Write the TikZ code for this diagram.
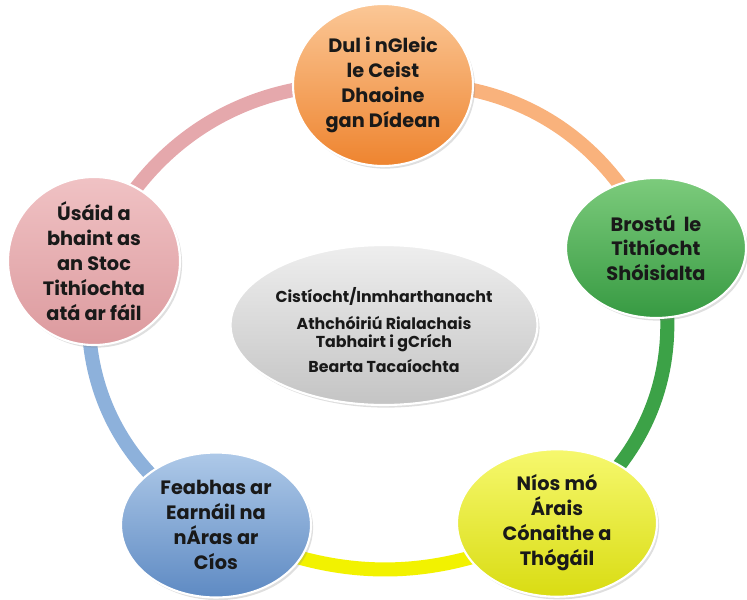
\documentclass[tikz,border=0pt]{standalone}
\usepackage{fontspec}
\setmainfont{Poppins}
\usetikzlibrary{shapes.geometric,shadows}

\definecolor{ringorange}{HTML}{F9B27C}
\definecolor{ringgreen}{HTML}{3CA247}
\definecolor{ringyellow}{HTML}{F2F200}
\definecolor{ringblue}{HTML}{8DB1DB}
\definecolor{ringpink}{HTML}{E5A8AC}
\definecolor{orangetop}{HTML}{FBC796}
\definecolor{orangebot}{HTML}{EE842F}
\definecolor{greentop}{HTML}{7CCB7C}
\definecolor{greenbot}{HTML}{379A42}
\definecolor{yellowtop}{HTML}{F6F86E}
\definecolor{yellowbot}{HTML}{D9DC12}
\definecolor{bluetop}{HTML}{AEC9E8}
\definecolor{bluebot}{HTML}{5E8AC3}
\definecolor{pinktop}{HTML}{F0C2C4}
\definecolor{pinkbot}{HTML}{DC9A9E}
\definecolor{graytop}{HTML}{EEEEEE}
\definecolor{graybot}{HTML}{C4C4C4}

\begin{document}
\begin{tikzpicture}[x=0.02cm,y=-0.02cm,
    bubble/.style={ellipse,draw=white,line width=1.2pt,inner sep=0pt,
      align=center,text=black!90,
      font=\fontsize{11}{14.2}\selectfont\bfseries,
      drop shadow={opacity=0.25,shadow xshift=1.2pt,shadow yshift=-1.5pt}},
    band/.style={line width=8pt}]
  \useasboundingbox (0,0) rectangle (747,599);
  \coordinate (A) at (383,85);
  \coordinate (B) at (656,248);
  \coordinate (C) at (557,523);
  \coordinate (D) at (216,525);
  \coordinate (E) at (94,261);
  \coordinate (M) at (384,325);
  % ring
  \draw[band,ringorange] (A) to[bend left=36] (B);
  \draw[band,ringgreen] (B) to[bend left=36] (C);
  \draw[band,ringyellow] (C) to[bend left=27] (D);
  \draw[band,ringblue] (D) to[bend left=36] (E);
  \draw[band,ringpink] (E) to[bend left=36] (A);
  % circles
  \node[bubble,minimum width=3.6cm,minimum height=3.24cm,
    top color=orangetop,bottom color=orangebot] (An) at (A)
    {Dul i nGleic\\le Ceist\\Dhaoine\\gan Dídean};
  \node[bubble,minimum width=3.6cm,minimum height=2.8cm,
    top color=greentop,bottom color=greenbot] (Bn) at (B)
    {Brostú\ \ le\\Tithíocht\\Shóisialta};
  \node[bubble,minimum width=4cm,minimum height=2.95cm,
    top color=yellowtop,bottom color=yellowbot] (Cn) at (C)
    {Níos mó\\Árais\\Cónaithe a\\Thógáil};
  \node[bubble,minimum width=3.8cm,minimum height=2.9cm,
    top color=bluetop,bottom color=bluebot] (Dn) at (D)
    {Feabhas ar\\Earnáil na\\nÁras ar\\Cíos};
  \node[bubble,minimum width=3.44cm,minimum height=2.86cm,
    top color=pinktop,bottom color=pinkbot] (En) at (E)
    {Úsáid a\\bhaint as\\an Stoc\\Tithíochta\\atá ar fáil};
  \node[bubble,minimum width=5.44cm,minimum height=3.2cm,
    font=\fontsize{9}{10.2}\selectfont\bfseries,
    top color=graytop,bottom color=graybot] (Mn) at (M)
    {\rule{0pt}{14pt}Cistíocht/Inmharthanacht\\[5pt]Athchóiriú Rialachais\\Tabhairt i gCrích\\[4pt]Bearta Tacaíochta};
\end{tikzpicture}
\end{document}
